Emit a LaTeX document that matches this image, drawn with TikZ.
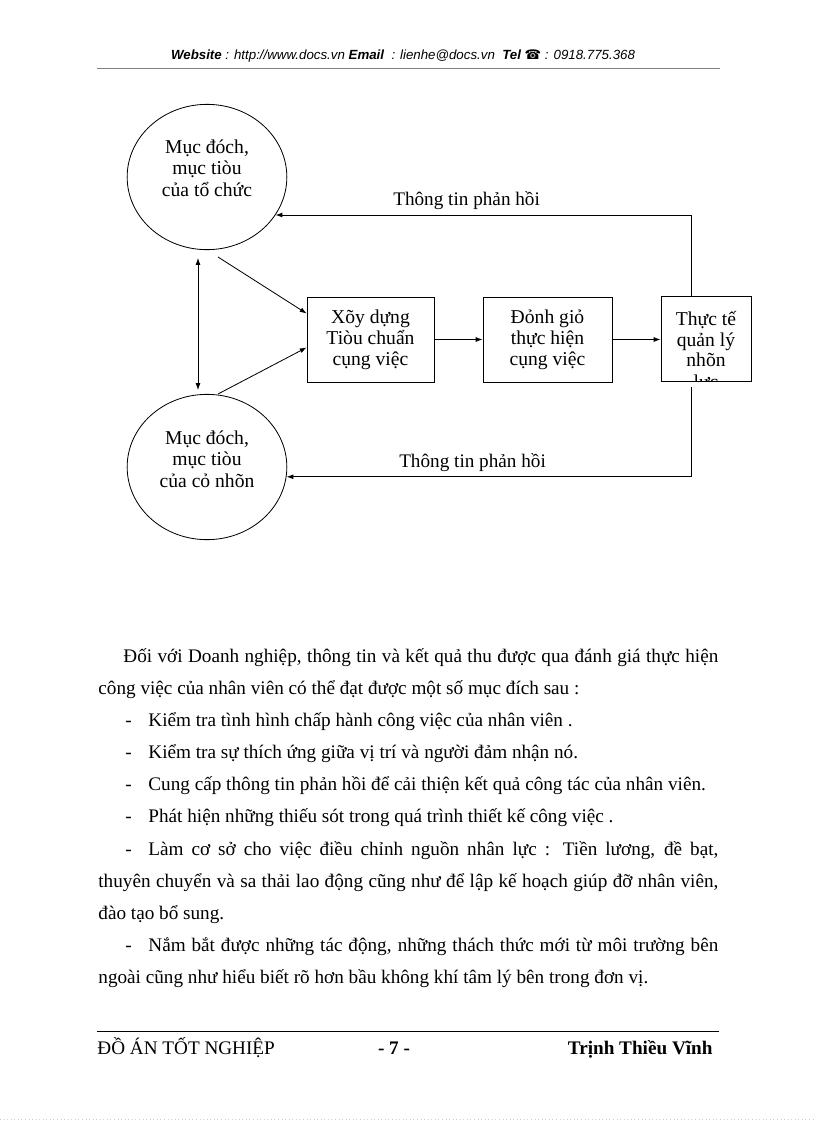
\documentclass[tikz,border=0pt]{standalone}
\usepackage{fontspec}
\setmainfont{Liberation Serif}
\newfontfamily\headfont{Liberation Sans}
\newfontfamily\phonefont{DejaVu Sans}
\usetikzlibrary{shapes.geometric,calc,arrows.meta}

\tikzset{
  goal/.style={draw, ellipse, minimum width=116.5pt, minimum height=106pt, inner sep=0pt},
  goaltext/.style={align=center, inner sep=0pt, font=\fontsize{14.3}{15.8}\selectfont},
  stage/.style={draw, align=center, minimum height=62pt, inner sep=0pt, font=\fontsize{14.3}{15.4}\selectfont},
  feedback/.style={font=\fontsize{14}{15}\selectfont},
  body/.style={anchor=base west, inner sep=0pt, font=\fontsize{14}{16}\selectfont},
}

\begin{document}
\begin{tikzpicture}[x=0.7295pt, y=-0.7295pt, >={Latex[length=5pt,width=3.6pt]}, line width=0.6pt]
    \useasboundingbox (0,0) rectangle (816,1123);
    \node (head) at (403,56) {\headfont\itshape\fontsize{9.7}{11}\selectfont \textbf{Website} : http://www.docs.vn \textbf{Email} \ : lienhe@docs.vn \ \textbf{Tel} {\phonefont\upshape ☎} : 0918.775.368};
    \draw[gray] (97,68) -- (720,68);

    \node[goal] (org) at (207,177) {};
    \node[goaltext] (orgtext) at (207,168) {Mục đóch,\\mục tiòu\\của tổ chức};
    \node[goal] (person) at (207,467) {};
    \node[goaltext] (persontext) at (207,459) {Mục đóch,\\mục tiòu\\của cỏ nhõn};

    \node[stage, minimum width=92.6pt] (build) at (370.5,339.5) {Xõy dựng\\Tiòu chuẩn\\cụng việc};
    \node[stage, minimum width=94.1pt] (assess) at (547.5,339.5) {Đỏnh giỏ\\thực hiện\\cụng việc};
    \node[stage, minimum width=65.7pt, font=\fontsize{14.3}{14.6}\selectfont] (practice) at (706,339) {Thực tế\\quản lý\\nhõn};
    \begin{scope}
        \clip (practice.south west) rectangle (practice.north east);
        \node[stage, draw=none, anchor=base] (practicecut) at (706,388) {lực};
    \end{scope}

    \coordinate (orgfoot) at (198,258);
    \coordinate (personhead) at (198,390);
    \coordinate (orgdiag) at (218,257);
    \coordinate (persondiag) at (218,394);
    \draw[<->] (orgfoot) -- (personhead);
    \draw[->] (orgdiag) -- ($(build.west)+(0,-26)$);
    \draw[->] (persondiag) -- ($(build.west)+(0,8)$);
    \draw[->] (build) -- (assess);
    \draw[->] (assess) -- (practice.west |- assess);
    \draw[->] ([xshift=-11pt]practice.north) |- node[feedback, above, pos=0.77] (fbtop) {Thông tin phản hồi} (org.-29);
    \draw[->, shorten <=3.6pt] ([xshift=-11pt]practice.south) |- node[feedback, above, pos=0.77] (fbbottom) {Thông tin phản hồi} (person.-7);

    \node[body] (p1) at (123,662) {\hbox to 434pt{Đối với Doanh nghiệp, thông tin và kết quả thu được qua đánh giá thực hiện}};
    \node[body] (p2) at (98,694) {công việc của nhân viên có thể đạt được một số mục đích sau :};
    \foreach \y [count=\i] in {726,758,790,822,855,951}
        \node[body] (dash\i) at (125,\y) {-};
    \node[body] (b1) at (148,726) {Kiểm tra tình hình chấp hành công việc của nhân viên .};
    \node[body] (b2) at (148,758) {Kiểm tra sự thích ứng giữa vị trí và người đảm nhận nó.};
    \node[body] (b3) at (148,790) {Cung cấp thông tin phản hồi để cải thiện kết quả công tác của nhân viên.};
    \node[body] (b4) at (148,822) {Phát hiện những thiếu sót trong quá trình thiết kế công việc .};
    \node[body] (b5) at (148,855) {\hbox to 415.8pt{Làm cơ sở cho việc điều chỉnh nguồn nhân lực : Tiền lương, đề bạt,}};
    \node[body] (b5b) at (98,887) {\hbox to 452.3pt{thuyên chuyển và sa thải lao động cũng như để lập kế hoạch giúp đỡ nhân viên,}};
    \node[body] (b5c) at (98,919) {đào tạo bổ sung.};
    \node[body] (b6) at (148,951) {\hbox to 415.8pt{Nắm bắt được những tác động, những thách thức mới từ môi trường bên}};
    \node[body] (b6b) at (98,983) {ngoài cũng như hiểu biết rõ hơn bầu không khí tâm lý bên trong đơn vị.};

    \draw (97,1031) -- (719,1031);
    \node[body] (foot1) at (97,1054) {ĐỒ ÁN TỐT NGHIỆP};
    \node[body, anchor=base] (foot2) at (394,1054) {\textbf{- 7 -}};
    \node[body, anchor=base east] (foot3) at (713,1054) {\textbf{Trịnh Thiều Vĩnh}};
    \draw[gray!40, dotted] (0,1119) -- (816,1119);
\end{tikzpicture}
\end{document}
